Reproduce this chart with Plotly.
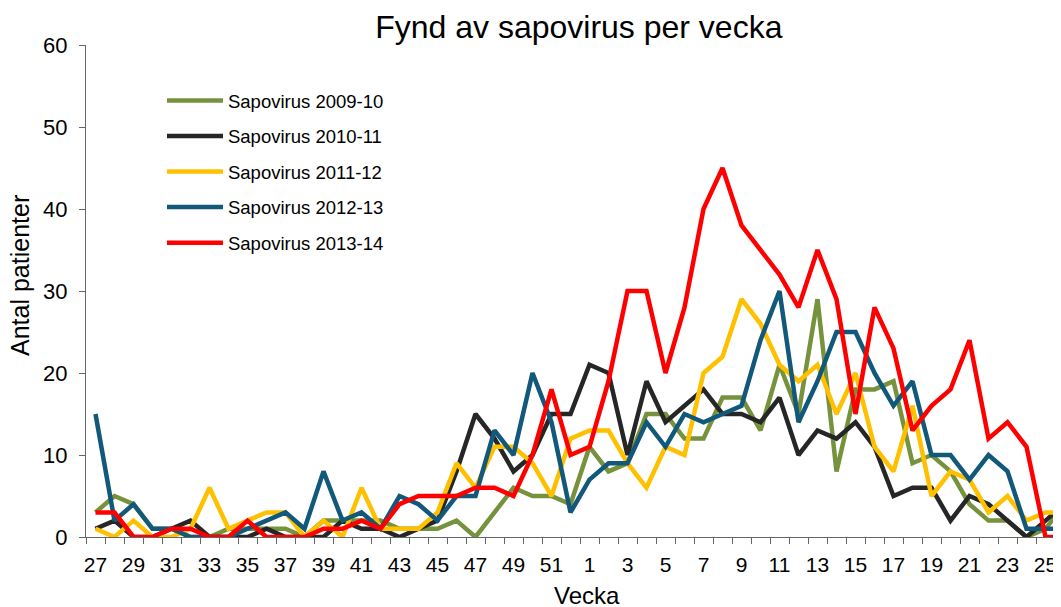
import plotly.graph_objects as go

weeks = [str(w) for w in list(range(27, 53)) + list(range(1, 27))]

s2009_10 = [3, 5, 4, 1, 1, 0, 0, 1, 1, 1, 1, 0, 2, 2, 2, 2, 1, 1, 1, 2, 0, 3, 6, 5, 5, 4,
            11, 8, 9, 15, 15, 12, 12, 17, 17, 13, 21, 15, 29, 8, 18, 18, 19, 9, 10, 8, 4, 2, 2, 0, 1, 4]
s2010_11 = [1, 2, 0, 0, 1, 2, 0, 0, 0, 1, 0, 0, 0, 2, 1, 1, 0, 1, 2, 8, 15, 12, 8, 10, 15, 15,
            21, 20, 10, 19, 14, 16, 18, 15, 15, 14, 17, 10, 13, 12, 14, 11, 5, 6, 6, 2, 5, 4, 2, 0, 2, 4]
s2011_12 = [1, 0, 2, 0, 0, 1, 6, 1, 2, 3, 3, 0, 2, 0, 6, 1, 1, 1, 3, 9, 6, 11, 11, 9, 5, 12,
            13, 13, 9, 6, 11, 10, 20, 22, 29, 26, 21, 19, 21, 15, 20, 11, 8, 16, 5, 8, 7, 3, 5, 2, 3, 3]
s2012_13 = [15, 2, 4, 1, 1, 0, 0, 0, 1, 2, 3, 1, 8, 2, 3, 1, 5, 4, 2, 5, 5, 13, 10, 20, 14, 3,
            7, 9, 9, 14, 11, 15, 14, 15, 16, 24, 30, 14, 19, 25, 25, 20, 16, 19, 10, 10, 7, 10, 8, 1, 1, 1]
s2013_14 = [3, 3, 0, 0, 1, 1, 0, 0, 2, 0, 0, 0, 1, 1, 2, 1, 4, 5, 5, 5, 6, 6, 5, 10, 18, 10,
            11, 19, 30, 30, 20, 28, 40, 45, 38, 35, 32, 28, 35, 29, 15, 28, 23, 13, 16, 18, 24, 12, 14, 11, 0, 0]

series = [
    ("Sapovirus 2009-10", s2009_10, "#76923C"),
    ("Sapovirus 2010-11", s2010_11, "#262626"),
    ("Sapovirus 2011-12", s2011_12, "#FFC000"),
    ("Sapovirus 2012-13", s2012_13, "#11587A"),
    ("Sapovirus 2013-14", s2013_14, "#FF0000"),
]

FONT = "Liberation Sans, Arial, sans-serif"

fig = go.Figure()
for name, vals, col in series:
    fig.add_trace(go.Scatter(
        x=weeks, y=vals, name=name, mode="lines",
        line=dict(color=col, width=4.5),
        legendgroup=name,
    ))

ticktext = [w if i % 2 == 0 else "" for i, w in enumerate(weeks)]

L, T, B = 78, 37, 78
W, H = 1061, 607
plot_w = W - L
plot_h = H - T - B
bottom_px = H - B

fig.update_layout(
    width=W, height=H,
    margin=dict(l=L, r=0, t=T, b=B),
    paper_bgcolor="white", plot_bgcolor="white",
    font=dict(family=FONT, color="black"),
    title=dict(text="Fynd av sapovirus per vecka", x=0.538, xref="container", xanchor="center",
               y=1 - 19 / H, yref="container", yanchor="middle",
               font=dict(size=32, family=FONT, color="black")),
    showlegend=True,
    legend=dict(x=0.0773, xanchor="left", y=0.925, yanchor="top",
                font=dict(size=18.5, family=FONT), tracegroupgap=8.5,
                bgcolor="rgba(0,0,0,0)", itemwidth=56),
    xaxis=dict(type="category", categoryorder="array", categoryarray=weeks,
               tickmode="array", tickvals=weeks, ticktext=ticktext, tickangle=0,
               tickson="boundaries", ticks="outside", ticklen=6, tickcolor="#666",
               showline=True, linecolor="#666", linewidth=1, showgrid=False,
               range=[-0.5, -0.5 + plot_w / 19.0], tickfont=dict(size=21), zeroline=False,
               ticklabelstandoff=9, automargin=False),
    yaxis=dict(range=[0, 60], dtick=10, ticks="outside", ticklen=6, tickcolor="#666",
               showline=True, linecolor="#666", linewidth=1, showgrid=False,
               zeroline=False, tickfont=dict(size=22), ticklabelstandoff=7,
               automargin=False),
    annotations=[
        dict(text="Antal patienter", x=(12 - L) / plot_w, xref="paper", xanchor="center",
             textangle=-90, y=(bottom_px - 268) / plot_h, yref="paper", yanchor="middle",
             showarrow=False, font=dict(size=25, family=FONT)),
        dict(text="Vecka", x=(579 - L) / plot_w, xref="paper", xanchor="center",
             y=(bottom_px - 587) / plot_h, yref="paper", yanchor="middle", showarrow=False,
             font=dict(size=24, family=FONT)),
    ],
)

fig.write_html("out.html")
